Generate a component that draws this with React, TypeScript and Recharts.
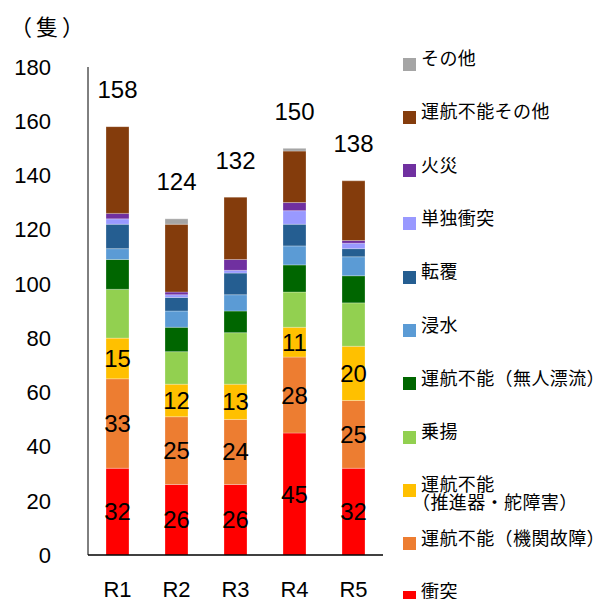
import React from 'react';
import { BarChart, Bar, XAxis, YAxis, LabelList } from 'recharts';

const categories = ['R1', 'R2', 'R3', 'R4', 'R5'];

// 衝突 .. その他, bottom to top of each stack
const collision = [32, 26, 26, 45, 32];
const engineFailure = [33, 25, 24, 28, 25];
const propellerFailure = [15, 12, 13, 11, 20];
const grounding = [18, 12, 19, 13, 16];
const drifting = [11, 9, 8, 10, 10];
const flooding = [4, 6, 6, 7, 7];
const capsizing = [9, 5, 8, 8, 3];
const singleCollision = [2, 1, 1, 5, 2];
const fire = [2, 1, 4, 3, 1];
const otherDisabled = [32, 25, 23, 19, 22];
const other = [0, 2, 0, 1, 0];

const yTicks = [0, 20, 40, 60, 80, 100, 120, 140, 160, 180];

const SERIES = [
  { key: 'collision', name: '衝突', values: collision, color: '#FF0000', label: true },
  { key: 'engine', name: '運航不能（機関故障）', values: engineFailure, color: '#ED7D31', label: true },
  { key: 'propeller', name: '運航不能\n（推進器・舵障害）', values: propellerFailure, color: '#FFC000', label: true },
  { key: 'grounding', name: '乗揚', values: grounding, color: '#92D050', label: false },
  { key: 'drifting', name: '運航不能（無人漂流）', values: drifting, color: '#006600', label: false },
  { key: 'flooding', name: '浸水', values: flooding, color: '#5B9BD5', label: false },
  { key: 'capsizing', name: '転覆', values: capsizing, color: '#255E91', label: false },
  { key: 'single', name: '単独衝突', values: singleCollision, color: '#9999FF', label: false },
  { key: 'fire', name: '火災', values: fire, color: '#7030A0', label: false },
  { key: 'otherDisabled', name: '運航不能その他', values: otherDisabled, color: '#843C0C', label: false },
  { key: 'other', name: 'その他', values: other, color: '#A5A5A5', label: false },
];

const data = categories.map((name, i) => {
  const row: any = { name };
  let total = 0;
  SERIES.forEach((s) => {
    row[s.key] = s.values[i];
    total += s.values[i];
  });
  row.total = total;
  return row;
});

const NUM_FONT = '"Liberation Sans", Arial, sans-serif';
const JP_FONT = '"Noto Sans CJK JP", "Noto Sans", sans-serif';

// total above each stack; drawn from the 運航不能その他 segment since その他 can be 0
const TotalLabel = (props: any) => {
  const { x, y, width, height, value, index } = props;
  if (!value) return null;
  const unit = Number(height) / Number(value);
  const top = Number(y) - other[index] * unit;
  return (
    <text
      x={Number(x) + Number(width) / 2}
      y={top - 37}
      textAnchor="middle"
      dominantBaseline="central"
      fill="#000"
      style={{ fontSize: 24, fontFamily: NUM_FONT }}
    >
      {data[index].total}
    </text>
  );
};

// legend drawn top-down in reverse stack order
const LegendBox = () => {
  const items = [...SERIES].reverse();
  return (
    <div style={{ position: 'absolute', left: 0, top: 0, width: 603, height: 599, pointerEvents: 'none' }}>
      {items.map((s, i) => {
        const textCenter = 57 + i * 53.3;
        const lines = s.name.split('\n');
        return (
          <React.Fragment key={s.key}>
            <div
              style={{
                position: 'absolute',
                left: 403,
                top: textCenter + 7 - 6.5,
                width: 13,
                height: 13,
                background: s.color,
              }}
            />
            <div
              style={{
                position: 'absolute',
                left: 421,
                top: textCenter - 9,
                fontFamily: JP_FONT,
                fontSize: 18,
                lineHeight: '18px',
                letterSpacing: 0.4,
                color: '#000',
                whiteSpace: 'nowrap',
                textSpacingTrim: 'space-all',
              } as any}
            >
              {lines.map((ln, k) => (
                <div key={k} style={{ marginLeft: k > 0 ? -9 : 0 }}>{ln}</div>
              ))}
            </div>
          </React.Fragment>
        );
      })}
    </div>
  );
};

export default function App() {
  return (
    <div style={{ position: 'relative', width: 603, height: 599, background: '#fff', overflow: 'hidden' }}>
      <style>{'body { margin: 0; }'}</style>
      <div
        style={{
          position: 'absolute',
          left: 10,
          top: 11,
          fontFamily: JP_FONT,
          fontSize: 22,
          lineHeight: '28px',
          letterSpacing: 4,
          color: '#000',
          whiteSpace: 'pre',
          textSpacingTrim: 'space-all',
        } as any}
      >
        （隻）
      </div>
      <BarChart
        width={603}
        height={599}
        data={data}
        margin={{ top: 67, right: 220, left: 0, bottom: 0 }}
        barSize={23}
      >
        <XAxis
          dataKey="name"
          axisLine={{ stroke: '#000', strokeWidth: 1.5 }}
          tickLine={false}
          tickSize={0}
          tickMargin={26}
          height={44}
          tick={{ fill: '#000', fontSize: 22, fontFamily: NUM_FONT }}
        />
        <YAxis
          domain={[0, 180]}
          ticks={yTicks}
          interval={0}
          width={88}
          axisLine={{ stroke: '#000', strokeWidth: 1 }}
          tickLine={false}
          tickSize={0}
          tickMargin={37}
          tick={{ fill: '#000', fontSize: 22, fontFamily: NUM_FONT }}
        />
        {SERIES.map((s) => (
          <Bar
            key={s.key}
            dataKey={s.key}
            name={s.name}
            stackId="a"
            fill={s.color}
            stroke="rgba(255,255,255,0.35)"
            strokeWidth={0.75}
            isAnimationActive={false}
          >
            {s.label && (
              <LabelList
                dataKey={s.key}
                position="center"
                fill="#000"
                style={{ fontSize: 24, fontFamily: NUM_FONT }}
              />
            )}
            {s.key === 'otherDisabled' && (
              <LabelList dataKey={s.key} content={<TotalLabel />} />
            )}
          </Bar>
        ))}
      </BarChart>
      <LegendBox />
    </div>
  );
}
